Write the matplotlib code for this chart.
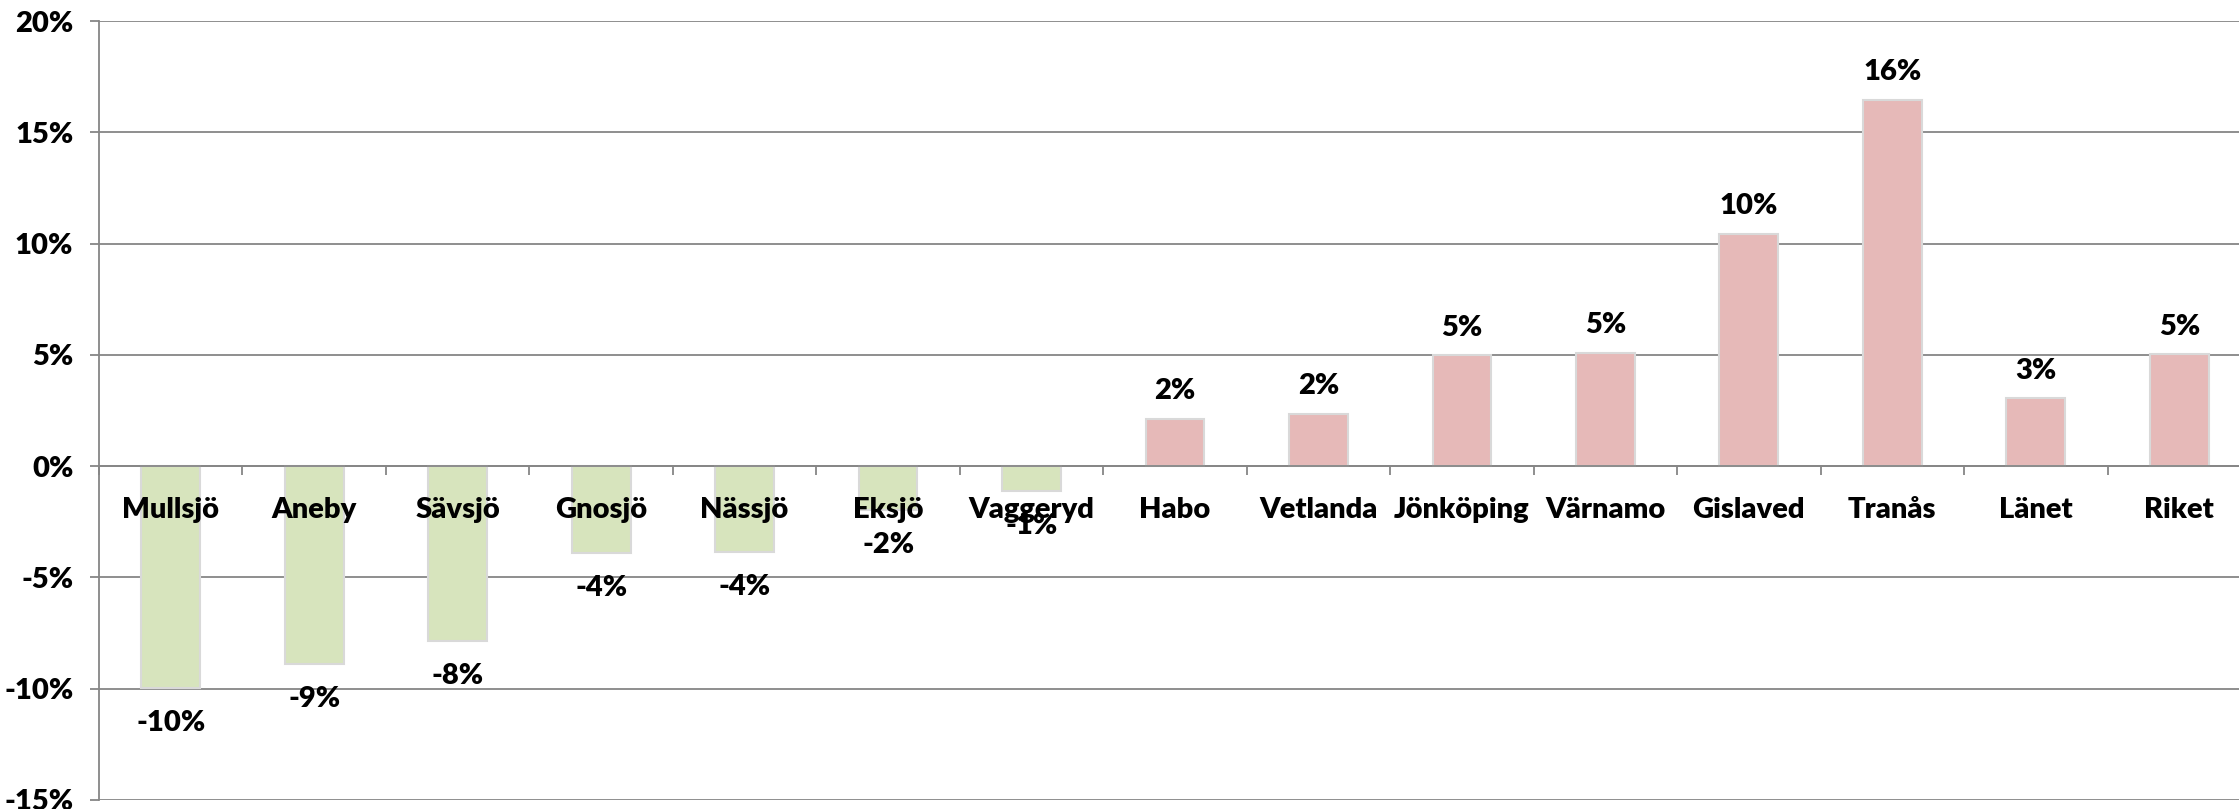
import numpy as np
import matplotlib.pyplot as plt
from matplotlib.ticker import FixedLocator, FuncFormatter

# Förändring per kommun (procent)
kommuner = ['Mullsjö', 'Aneby', 'Sävsjö', 'Gnosjö', 'Nässjö', 'Eksjö', 'Vaggeryd',
            'Habo', 'Vetlanda', 'Jönköping', 'Värnamo', 'Gislaved', 'Tranås',
            'Länet', 'Riket']
forandring = [-9.97, -8.88, -7.86, -3.89, -3.86, -1.95, -1.12,
              2.14, 2.35, 4.99, 5.09, 10.45, 16.47, 3.04, 5.02]
y_ticks = [-15, -10, -5, 0, 5, 10, 15, 20]

plt.rcParams['font.family'] = ['Lato', 'DejaVu Sans']

GRA = '#868686'
GRON = '#D7E4BD'
ROSA = '#E6B9B8'
FS = 21
VIKT = 'heavy'

fig = plt.figure(figsize=(22.39, 8.09), dpi=100)
ax = fig.add_axes([99 / 2239, 1 - 800 / 809, (2251 - 99) / 2239, (800 - 21) / 809])

x = np.arange(len(kommuner))
farger = [GRON if v < 0 else ROSA for v in forandring]
ax.bar(x, forandring, width=0.41, color=farger, edgecolor='#D9D9D9',
       linewidth=1.5, zorder=2)

# datavärden utanför stapelns ände
for xi, v in zip(x, forandring):
    if v >= 0:
        ax.annotate(f'{round(v):.0f}%', (xi, v), xytext=(0, 14), textcoords='offset points',
                    ha='center', va='baseline', fontsize=FS, fontweight=VIKT, zorder=4)
    else:
        ax.annotate(f'{round(v):.0f}%', (xi, v), xytext=(0, -16), textcoords='offset points',
                    ha='center', va='top', fontsize=FS, fontweight=VIKT, zorder=4)

# kategorinamn under nollinjen, ovanpå staplarna
for xi, namn in zip(x, kommuner):
    ax.annotate(namn, (xi, 0), xytext=(0, -37), textcoords='offset points',
                ha='center', va='baseline', fontsize=FS, fontweight=VIKT, zorder=5)

ax.set_xlim(-0.5, len(kommuner) - 0.5)
ax.set_ylim(-15, 20)

# y-axel
ax.yaxis.set_major_locator(FixedLocator(y_ticks))
ax.yaxis.set_major_formatter(FuncFormatter(lambda v, p: f'{v:.0f}%'))
ax.yaxis.grid(True, color=GRA, linewidth=1.3, zorder=0)
ax.set_axisbelow(True)
ax.tick_params(axis='y', length=6.5, width=1.3, color=GRA, pad=12, labelsize=FS)
for lbl in ax.get_yticklabels():
    lbl.set_fontweight(VIKT)

# x-axel vid noll
for s in ['top', 'right']:
    ax.spines[s].set_visible(False)
ax.spines['left'].set_color(GRA)
ax.spines['left'].set_linewidth(1.3)
ax.spines['bottom'].set_position(('data', 0))
ax.spines['bottom'].set_color(GRA)
ax.spines['bottom'].set_linewidth(1.3)
ax.set_xticks(x)
ax.set_xticklabels([])
ax.set_xticks(np.arange(len(kommuner) + 1) - 0.5, minor=True)
ax.tick_params(axis='x', which='major', length=0)
ax.tick_params(axis='x', which='minor', length=6.5, width=1.3, color=GRA)

fig.savefig('out.png', dpi=100)
